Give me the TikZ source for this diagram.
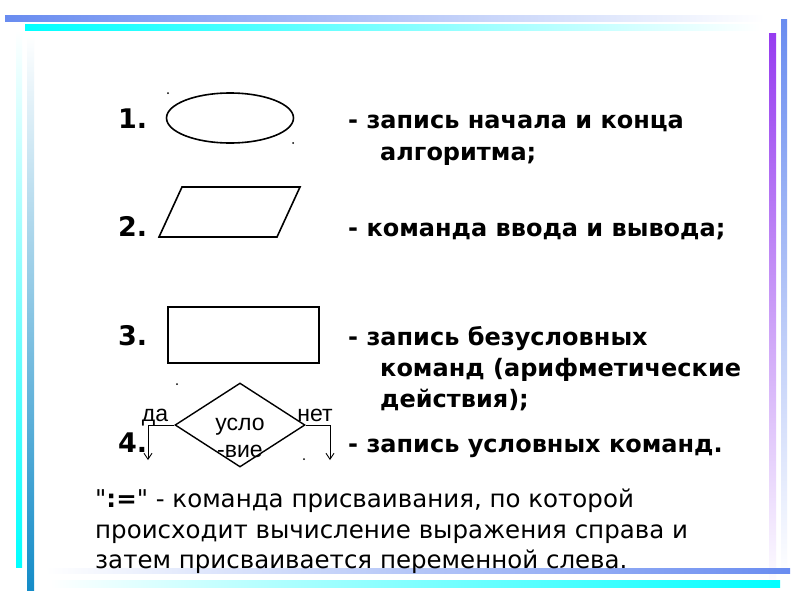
\documentclass[tikz,border=0pt]{standalone}
\usepackage{fontspec}
\setmainfont{DejaVu Sans}
\newfontfamily\rawf{DejaVu Sans}
\newfontfamily\arialf{Liberation Sans}
\usetikzlibrary{shapes.geometric,arrows.meta}
\definecolor{barblue}{RGB}{105,140,240}
\definecolor{barcyan}{RGB}{0,255,255}
\definecolor{barpurple}{RGB}{150,60,240}
\definecolor{barteal}{RGB}{20,140,200}
\begin{document}
\begin{tikzpicture}[x=1pt,y=-1pt,
  shp/.style={draw=black,line width=1.6pt},
  num/.style={anchor=base west,inner sep=0pt,font=\fontsize{27}{30}\selectfont\bfseries},
  txt/.style={anchor=base west,inner sep=0pt,font=\fontsize{24}{28}\selectfont\bfseries},
  btxt/.style={anchor=base west,inner sep=0pt,font=\fontsize{24.5}{28}\selectfont},
  small/.style={anchor=base,inner sep=0pt,font=\arialf\fontsize{23}{25}\selectfont},
  dot/.style={fill=black,inner sep=0pt,minimum size=2pt,circle},
  conn/.style={draw=black,line width=0.9pt},
  arr/.style={conn,-{Straight Barb[length=6pt,width=8pt,line width=0.9pt]}}]
\useasboundingbox (0,0) rectangle (800,600);
\fill[white] (0,0) rectangle (800,600);
% decorative bars
\shade[left color=barblue,right color=white] (5,15) rectangle (765,21);
\shade[left color=barcyan,right color=white] (25,24) rectangle (760,30);
\shade[top color=barblue,bottom color=white] (781,19) rectangle (787,575);
\shade[top color=barpurple,bottom color=white] (769,33) rectangle (776,590);
\shade[left color=white,right color=barblue] (45,568) rectangle (790,573);
\shade[left color=white,right color=barcyan] (50,580) rectangle (780,587);
\shade[top color=white,bottom color=barcyan] (16,30) rectangle (22,567);
\shade[top color=white,bottom color=barteal] (27,35) rectangle (34,590);
% 1
\node[num] (n1) at (118,128) {1.};
\node[shp,ellipse,minimum width=127pt,minimum height=50pt,inner sep=0pt] (ell) at (230,118) {};
\node[dot] (d1) at (168,93) {};
\node[dot] (d2) at (293,143) {};
\node[txt] (t1a) at (348,128) {- запись начала и конца};
\node[txt] (t1b) at (380,160) {алгоритма;};
% 2
\node[num] (n2) at (118,236) {2.};
\coordinate (p1) at (182,187);
\coordinate (p2) at (300,187);
\coordinate (p3) at (277,237);
\coordinate (p4) at (159,237);
\draw[shp,line join=miter] (p1) -- (p2) -- (p3) -- (p4) -- cycle;
\node[txt] (t2) at (348,236) {- команда ввода и вывода;};
% 3
\node[num] (n3) at (118,345) {3.};
\node[shp,rectangle,minimum width=151pt,minimum height=56pt,inner sep=0pt] (rect) at (243.5,335) {};
\node[txt] (t3a) at (348,345) {- запись безусловных};
\node[txt] (t3b) at (380,376) {команд (арифметические};
\node[txt] (t3c) at (380,407) {действия);};
% 4
\node[dot] (d3) at (177,384) {};
\node[dot] (d4) at (304,459) {};
\node[num] (n4) at (118,452) {4.};
\node[shp,diamond,line width=1.4pt,minimum width=130pt,minimum height=84pt,inner sep=0pt,aspect=1.55] (dia) at (240,425) {};
\node[small] (u1) at (240,430) {усло};
\node[small] (u2) at (240,457) {-вие};
\node[small] (da) at (155,421) {да};
\node[small] (net) at (315,421) {нет};
\coordinate (la) at (148,460);
\coordinate (ra) at (330,460);
\draw[arr] (dia.west) -| (la);
\draw[arr] (dia.east) -| (ra);
\node[txt] (t4) at (348,452) {- запись условных команд.};
% bottom text
\node[btxt] (b1) at (95,507) {{\rawf"}\textbf{:=}{\rawf"} - команда присваивания, по которой};
\node[btxt] (b2) at (95,538) {происходит вычисление выражения справа и};
\node[btxt] (b3) at (95,568) {затем присваивается переменной слева.};
\end{tikzpicture}
\end{document}
